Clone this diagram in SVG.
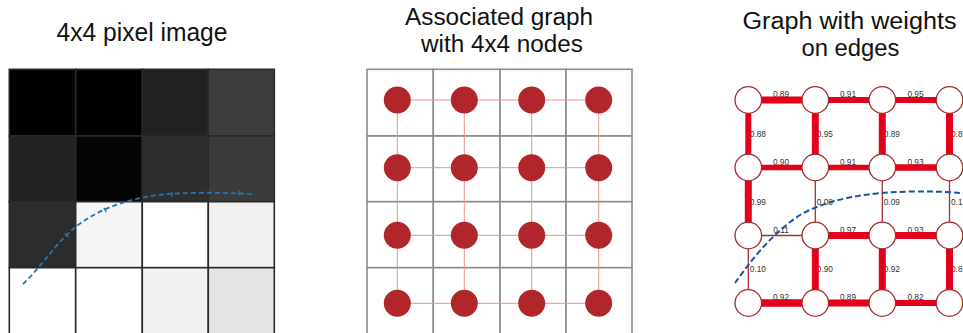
<svg xmlns="http://www.w3.org/2000/svg" width="963" height="333" viewBox="0 0 963 333">
<style>
.title{font-family:"Liberation Sans",Arial,sans-serif;font-size:25px;fill:#111;text-anchor:middle}
.t2{font-size:23px}
.pix{stroke:#2a2a2a;stroke-width:1.6}
.cell{fill:#fff;stroke:#8c8c8c;stroke-width:1.6}
.g2edge{stroke:#e79494;stroke-width:1}
.g2node{fill:#b1262b}
.w{stroke:#e2001a;stroke-linecap:butt}
.thin{stroke:#a53030;stroke-width:1.3}
.g3node{fill:#fff;stroke:#a52a2a;stroke-width:1.3}
.lbl{font-family:"Liberation Sans",Arial,sans-serif;font-size:8.3px;fill:#333}
.mid{text-anchor:middle}
</style>
<rect width="963" height="333" fill="#fff"/>

<!-- Panel 1 -->
<g id="panel1">
<text class="title" x="142" y="41" textLength="171" lengthAdjust="spacingAndGlyphs">4x4 pixel image</text>
<g id="pixels" class="pix">
<rect x="9.3" y="69.3" width="66.4" height="66.7" fill="#000"/>
<rect x="75.7" y="69.3" width="66.6" height="66.7" fill="#000"/>
<rect x="142.3" y="69.3" width="66" height="66.7" fill="#222"/>
<rect x="208.3" y="69.3" width="66" height="66.7" fill="#3d3d3d"/>
<rect x="9.3" y="136" width="66.4" height="65.7" fill="#222"/>
<rect x="75.7" y="136" width="66.6" height="65.7" fill="#050505"/>
<rect x="142.3" y="136" width="66" height="65.7" fill="#2e2e2e"/>
<rect x="208.3" y="136" width="66" height="65.7" fill="#3b3b3b"/>
<rect x="9.3" y="201.7" width="66.4" height="66" fill="#2c2c2c"/>
<rect x="75.7" y="201.7" width="66.6" height="66" fill="#f5f5f5"/>
<rect x="142.3" y="201.7" width="66" height="66" fill="#fff"/>
<rect x="208.3" y="201.7" width="66" height="66" fill="#f0f0f0"/>
<rect x="9.3" y="267.7" width="66.4" height="70" fill="#fff"/>
<rect x="75.7" y="267.7" width="66.6" height="70" fill="#fff"/>
<rect x="142.3" y="267.7" width="66" height="70" fill="#f1f1f1"/>
<rect x="208.3" y="267.7" width="66" height="70" fill="#e5e4e5"/>
</g>
<g id="curve1" fill="none" stroke="#1f77b4" stroke-width="1.8">
<path d="M23,284 C40,268 55,245 72,230 C95,210 130,196 175,193.5 C210,192 235,193 255,194.5" stroke-dasharray="5 3"/>
<path d="M64.9,233.2 L68.5,236.8 M103.8,207.8 L106.2,212.2 M172,192 L172,197 M239,190.5 L239,195.5" stroke-width="1.3"/>
</g>
</g>

<!-- Panel 2 -->
<g id="panel2">
<text class="title t2" x="499" y="25" textLength="188" lengthAdjust="spacingAndGlyphs">Associated graph</text>
<text class="title t2" x="502" y="51.5" textLength="162" lengthAdjust="spacingAndGlyphs">with 4x4 nodes</text>
<g id="cells2">
<rect class="cell" x="367" y="69.3" width="66.3" height="66.7"/>
<rect class="cell" x="433.3" y="69.3" width="66.7" height="66.7"/>
<rect class="cell" x="500" y="69.3" width="66" height="66.7"/>
<rect class="cell" x="566" y="69.3" width="66" height="66.7"/>
<rect class="cell" x="367" y="136" width="66.3" height="65.7"/>
<rect class="cell" x="433.3" y="136" width="66.7" height="65.7"/>
<rect class="cell" x="500" y="136" width="66" height="65.7"/>
<rect class="cell" x="566" y="136" width="66" height="65.7"/>
<rect class="cell" x="367" y="201.7" width="66.3" height="66"/>
<rect class="cell" x="433.3" y="201.7" width="66.7" height="66"/>
<rect class="cell" x="500" y="201.7" width="66" height="66"/>
<rect class="cell" x="566" y="201.7" width="66" height="66"/>
<rect class="cell" x="367" y="267.7" width="66.3" height="70"/>
<rect class="cell" x="433.3" y="267.7" width="66.7" height="70"/>
<rect class="cell" x="500" y="267.7" width="66" height="70"/>
<rect class="cell" x="566" y="267.7" width="66" height="70"/>
</g>
<g id="connectors2" class="g2edge">
<line x1="397.3" y1="100" x2="598.7" y2="100"/>
<line x1="397.3" y1="167.7" x2="598.7" y2="167.7"/>
<line x1="397.3" y1="235.3" x2="598.7" y2="235.3"/>
<line x1="397.3" y1="303.3" x2="598.7" y2="303.3"/>
<line x1="397.3" y1="100" x2="397.3" y2="303.3"/>
<line x1="464.3" y1="100" x2="464.3" y2="303.3"/>
<line x1="531.7" y1="100" x2="531.7" y2="303.3"/>
<line x1="598.7" y1="100" x2="598.7" y2="303.3"/>
</g>
<g id="n2-00"><circle class="g2node" cx="397.3" cy="100" r="13.5"/></g>
<g id="n2-01"><circle class="g2node" cx="464.3" cy="100" r="13.5"/></g>
<g id="n2-02"><circle class="g2node" cx="531.7" cy="100" r="13.5"/></g>
<g id="n2-03"><circle class="g2node" cx="598.7" cy="100" r="13.5"/></g>
<g id="n2-10"><circle class="g2node" cx="397.3" cy="167.7" r="13.5"/></g>
<g id="n2-11"><circle class="g2node" cx="464.3" cy="167.7" r="13.5"/></g>
<g id="n2-12"><circle class="g2node" cx="531.7" cy="167.7" r="13.5"/></g>
<g id="n2-13"><circle class="g2node" cx="598.7" cy="167.7" r="13.5"/></g>
<g id="n2-20"><circle class="g2node" cx="397.3" cy="235.3" r="13.5"/></g>
<g id="n2-21"><circle class="g2node" cx="464.3" cy="235.3" r="13.5"/></g>
<g id="n2-22"><circle class="g2node" cx="531.7" cy="235.3" r="13.5"/></g>
<g id="n2-23"><circle class="g2node" cx="598.7" cy="235.3" r="13.5"/></g>
<g id="n2-30"><circle class="g2node" cx="397.3" cy="303.3" r="13.5"/></g>
<g id="n2-31"><circle class="g2node" cx="464.3" cy="303.3" r="13.5"/></g>
<g id="n2-32"><circle class="g2node" cx="531.7" cy="303.3" r="13.5"/></g>
<g id="n2-33"><circle class="g2node" cx="598.7" cy="303.3" r="13.5"/></g>
</g>

<!-- Panel 3 -->
<g id="panel3">
<text class="title t2" x="849.5" y="29" textLength="214" lengthAdjust="spacingAndGlyphs">Graph with weights</text>
<text class="title t2" x="850.5" y="55.5" textLength="98" lengthAdjust="spacingAndGlyphs">on edges</text>
<g id="labels3" class="lbl">
<text class="mid" x="781" y="97">0.89</text>
<text class="mid" x="848" y="97">0.91</text>
<text class="mid" x="915.5" y="97">0.95</text>
<text class="mid" x="781" y="164.5">0.90</text>
<text class="mid" x="848" y="164.5">0.91</text>
<text class="mid" x="915.5" y="164.5">0.93</text>
<text class="mid" x="781" y="232.5">0.11</text>
<text class="mid" x="848" y="232.5">0.97</text>
<text class="mid" x="915.5" y="232.5">0.93</text>
<text class="mid" x="781" y="300">0.92</text>
<text class="mid" x="848" y="300">0.89</text>
<text class="mid" x="915.5" y="300">0.82</text>
<text x="749.8" y="136.8">0.88</text>
<text x="816.8" y="136.8">0.95</text>
<text x="883.8" y="136.8">0.89</text>
<text x="951" y="136.8">0.8</text>
<text x="749.8" y="204.5">0.99</text>
<text x="816.8" y="204.5">0.08</text>
<text x="883.8" y="204.5">0.09</text>
<text x="951" y="204.5">0.1</text>
<text x="749.8" y="272.3">0.10</text>
<text x="816.8" y="272.3">0.90</text>
<text x="883.8" y="272.3">0.92</text>
<text x="951" y="272.3">0.8</text>
</g>
<g id="connectors3">
<line class="w" x1="748.3" y1="100" x2="815.3" y2="100" stroke-width="7"/>
<line class="w" x1="815.3" y1="100" x2="882.3" y2="100" stroke-width="6"/>
<line class="w" x1="882.3" y1="100" x2="949.5" y2="100" stroke-width="6"/>
<line class="w" x1="748.3" y1="167.5" x2="815.3" y2="167.5" stroke-width="5.5"/>
<line class="w" x1="815.3" y1="167.5" x2="882.3" y2="167.5" stroke-width="5.5"/>
<line class="w" x1="882.3" y1="167.5" x2="949.5" y2="167.5" stroke-width="6.5"/>
<line class="thin" x1="748.3" y1="235.5" x2="815.3" y2="235.5"/>
<line class="w" x1="815.3" y1="235.5" x2="882.3" y2="235.5" stroke-width="7"/>
<line class="w" x1="882.3" y1="235.5" x2="949.5" y2="235.5" stroke-width="7"/>
<line class="w" x1="748.3" y1="303" x2="815.3" y2="303" stroke-width="7.5"/>
<line class="w" x1="815.3" y1="303" x2="882.3" y2="303" stroke-width="7"/>
<line class="w" x1="882.3" y1="303" x2="949.5" y2="303" stroke-width="6"/>
<line class="w" x1="748.3" y1="100" x2="748.3" y2="167.5" stroke-width="6"/>
<line class="w" x1="815.3" y1="100" x2="815.3" y2="167.5" stroke-width="7"/>
<line class="w" x1="882.3" y1="100" x2="882.3" y2="167.5" stroke-width="7"/>
<line class="w" x1="949.5" y1="100" x2="949.5" y2="167.5" stroke-width="7"/>
<line class="w" x1="748.3" y1="167.5" x2="748.3" y2="235.5" stroke-width="7"/>
<line class="thin" x1="815.3" y1="167.5" x2="815.3" y2="235.5"/>
<line class="thin" x1="882.3" y1="167.5" x2="882.3" y2="235.5"/>
<line class="thin" x1="949.5" y1="167.5" x2="949.5" y2="235.5"/>
<line class="thin" x1="748.3" y1="235.5" x2="748.3" y2="303"/>
<line class="w" x1="815.3" y1="235.5" x2="815.3" y2="303" stroke-width="7"/>
<line class="w" x1="882.3" y1="235.5" x2="882.3" y2="303" stroke-width="7"/>
<line class="w" x1="949.5" y1="235.5" x2="949.5" y2="303" stroke-width="7"/>
</g>
<g id="n3-00"><circle class="g3node" cx="748.3" cy="100" r="13.3"/></g>
<g id="n3-01"><circle class="g3node" cx="815.3" cy="100" r="13.3"/></g>
<g id="n3-02"><circle class="g3node" cx="882.3" cy="100" r="13.3"/></g>
<g id="n3-03"><circle class="g3node" cx="949.5" cy="100" r="13.3"/></g>
<g id="n3-10"><circle class="g3node" cx="748.3" cy="167.5" r="13.3"/></g>
<g id="n3-11"><circle class="g3node" cx="815.3" cy="167.5" r="13.3"/></g>
<g id="n3-12"><circle class="g3node" cx="882.3" cy="167.5" r="13.3"/></g>
<g id="n3-13"><circle class="g3node" cx="949.5" cy="167.5" r="13.3"/></g>
<g id="n3-20"><circle class="g3node" cx="748.3" cy="235.5" r="13.3"/></g>
<g id="n3-21"><circle class="g3node" cx="815.3" cy="235.5" r="13.3"/></g>
<g id="n3-22"><circle class="g3node" cx="882.3" cy="235.5" r="13.3"/></g>
<g id="n3-23"><circle class="g3node" cx="949.5" cy="235.5" r="13.3"/></g>
<g id="n3-30"><circle class="g3node" cx="748.3" cy="303" r="13.3"/></g>
<g id="n3-31"><circle class="g3node" cx="815.3" cy="303" r="13.3"/></g>
<g id="n3-32"><circle class="g3node" cx="882.3" cy="303" r="13.3"/></g>
<g id="n3-33"><circle class="g3node" cx="949.5" cy="303" r="13.3"/></g>
<path id="curve3" d="M735,283 C750,262 770,235 800,215 C830,198 870,192 915,191.5 C935,191.3 950,192 965,193.5" fill="none" stroke="#1c55a0" stroke-width="2" stroke-dasharray="6 3"/>
</g>
</svg>
